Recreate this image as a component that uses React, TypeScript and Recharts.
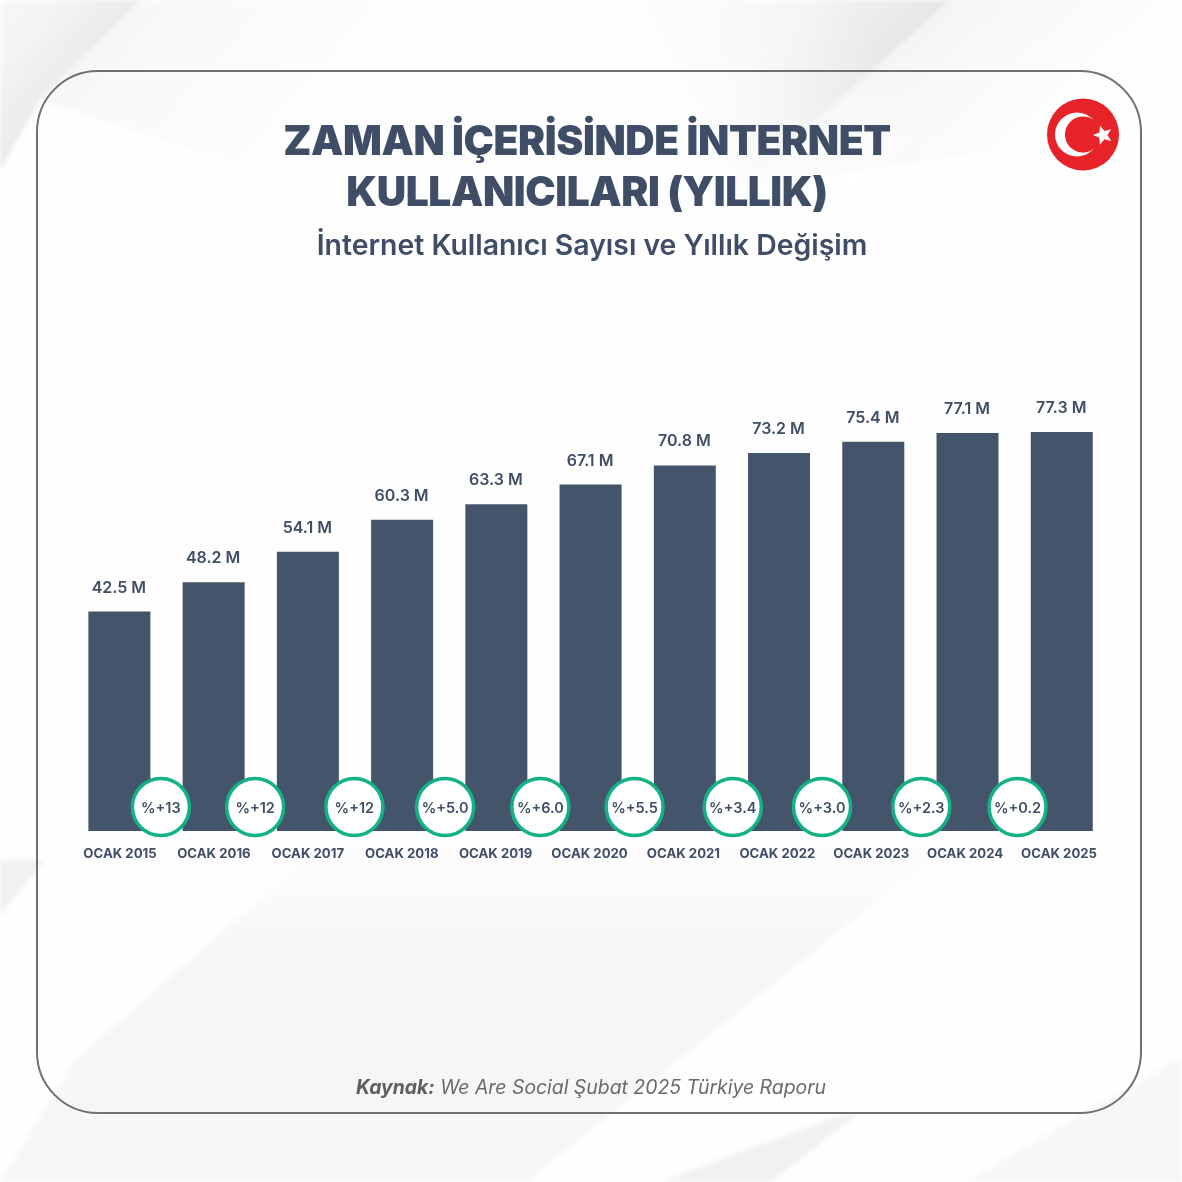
import React from 'react';
import { BarChart, Bar, XAxis, YAxis, LabelList } from 'recharts';

const years = ['OCAK 2015', 'OCAK 2016', 'OCAK 2017', 'OCAK 2018', 'OCAK 2019', 'OCAK 2020', 'OCAK 2021', 'OCAK 2022', 'OCAK 2023', 'OCAK 2024', 'OCAK 2025'];
const users = [42.5, 48.2, 54.1, 60.3, 63.3, 67.1, 70.8, 73.2, 75.4, 77.1, 77.3];
const changes = ['%+13', '%+12', '%+12', '%+5.0', '%+6.0', '%+5.5', '%+3.4', '%+3.0', '%+2.3', '%+0.2', null];

const rows = years.map((year, i) => ({ year, users: users[i] }));

const NAVY = '#44546a';
const TEXT = '#3f4e66';
const GREEN = '#12b286';
const FONT = 'Inter, "Open Sans", sans-serif';

// badges do not sit evenly between the bars in the original
const badgeShift = [41.5, 41.5, 46.5, 43, 44, 44, 48, 43, 48, 50];

function Badge(props: any) {
  const { x, width, index } = props;
  const text = changes[index];
  if (!text) return null;
  const cx = x + width / 2 + badgeShift[index];
  return (
    <g>
      <circle cx={cx} cy={807} r={28.5} fill="#fff" stroke={GREEN} strokeWidth={3.5} />
      <text x={cx} y={812.5} textAnchor="middle" fontSize={14.5} fontWeight={600} fill={TEXT} fontFamily={FONT}>
        {text}
      </text>
    </g>
  );
}

function ValueLabel(props: any) {
  const { x, y, width, value } = props;
  return (
    <text x={x + width / 2 - 0.5} y={y - 19} textAnchor="middle" fontSize={16} fontWeight={600} fill={TEXT} fontFamily={FONT}>
      {`${value} M`}
    </text>
  );
}

// the year labels run on a slightly tighter step than the bars
function YearTick(props: any) {
  const { x, y, payload, index } = props;
  return (
    <text x={x + 0.5 - index * 0.33} y={y + 11} textAnchor="middle" fontSize={13.2} fontWeight={700} fill={TEXT} fontFamily={FONT}>
      {payload.value}
    </text>
  );
}

function Background() {
  return (
    <svg width={1182} height={1182} style={{ position: 'absolute', left: 0, top: 0 }}>
      <defs>
        <linearGradient id="topLeft" gradientUnits="userSpaceOnUse" x1="90" y1="70" x2="-10" y2="-20">
          <stop offset="0" stopColor="#e9e9e9" />
          <stop offset="0.5" stopColor="#f4f4f4" />
          <stop offset="1" stopColor="#f8f8f8" />
        </linearGradient>
        <linearGradient id="topLeftFade" gradientUnits="userSpaceOnUse" x1="60" y1="90" x2="240" y2="250">
          <stop offset="0" stopColor="#f3f3f3" />
          <stop offset="1" stopColor="#fefefe" />
        </linearGradient>
        <linearGradient id="topStreak" gradientUnits="userSpaceOnUse" x1="850" y1="90" x2="660" y2="-120">
          <stop offset="0" stopColor="#e6e6e6" />
          <stop offset="0.3" stopColor="#f3f3f3" />
          <stop offset="1" stopColor="#fefefe" />
        </linearGradient>
        <linearGradient id="topStreakFade" gradientUnits="userSpaceOnUse" x1="850" y1="90" x2="960" y2="210">
          <stop offset="0" stopColor="#ececec" />
          <stop offset="1" stopColor="#fefefe" />
        </linearGradient>
        <linearGradient id="streakEnd" gradientUnits="userSpaceOnUse" x1="890" y1="50" x2="730" y2="195">
          <stop offset="0" stopColor="#fefefe" stopOpacity={0} />
          <stop offset="1" stopColor="#fefefe" stopOpacity={1} />
        </linearGradient>
        <linearGradient id="lowBand" gradientUnits="userSpaceOnUse" x1="0" y1="830" x2="0" y2="960">
          <stop offset="0" stopColor="#fefefe" />
          <stop offset="1" stopColor="#f6f6f6" />
        </linearGradient>
        <filter id="soft" x="-5%" y="-5%" width="110%" height="110%">
          <feGaussianBlur stdDeviation="2" />
        </filter>
      </defs>
      <rect width={1182} height={1182} fill="#fefefe" />
      <g filter="url(#soft)">
        <polygon points="950,0 1182,0 1182,120 740,190" fill="url(#topStreakFade)" opacity={0.5} />
        <polygon points="640,0 950,0 740,190" fill="url(#topStreak)" />
        <polygon points="520,0 950,0 1000,60 780,260 620,260" fill="url(#streakEnd)" />
        <polygon points="0,0 140,0 40,100 0,170" fill="url(#topLeft)" />
        <polygon points="140,0 400,0 260,170 40,100" fill="url(#topLeftFade)" opacity={0.7} />
        <polygon points="0,860 45,860 0,915" fill="#f1f1f1" />
        <polygon points="339,830 966,830 527,1182 0,1182 75,1060" fill="url(#lowBand)" />
        <polygon points="660,1182 836,1117 860,1113 770,1182" fill="#f1f1f1" />
        <polygon points="965,1182 1182,1057 1182,1182" fill="#f7f7f7" />
      </g>
    </svg>
  );
}

function Flag() {
  return (
    <svg width={80} height={80} style={{ position: 'absolute', left: 1043, top: 94 }}>
      <circle cx={40} cy={40.5} r={36} fill="#e52329" />
      <circle cx={34} cy={40.5} r={22} fill="#fff" />
      <circle cx={40} cy={40.5} r={18} fill="#e52329" />
      <polygon
        points="60,31 62.6,37.6 69.6,38 64.2,42.4 66,49.2 60,45.4 54,49.2 55.8,42.4 50.4,38 57.4,37.6"
        fill="#fff"
        transform="rotate(-18 60 41)"
      />
    </svg>
  );
}

const centered: React.CSSProperties = {
  position: 'absolute',
  left: 0,
  width: 1182,
  textAlign: 'center',
  fontFamily: FONT,
  color: TEXT,
  whiteSpace: 'nowrap',
};

export default function App() {
  return (
    <div style={{ position: 'absolute', left: 0, top: 0, width: 1182, height: 1182, overflow: 'hidden' }}>
      <Background />
      <div
        style={{
          position: 'absolute',
          left: 36,
          top: 70,
          width: 1102,
          height: 1040,
          border: '2px solid #707070',
          borderRadius: 62,
        }}
      />
      <Flag />
      <div style={{ ...centered, left: -4, top: 115, fontSize: 40.7, lineHeight: '51px', fontWeight: 900, letterSpacing: -0.4 }}>
        ZAMAN İÇERİSİNDE İNTERNET
        <br />
        KULLANICILARI (YILLIK)
      </div>
      <div style={{ ...centered, left: 1, top: 228, fontSize: 28.4, lineHeight: '34px', fontWeight: 600 }}>
        İnternet Kullanıcı Sayısı ve Yıllık Değişim
      </div>

      <div style={{ position: 'absolute', left: 0, top: 0 }}>
        <BarChart
          width={1182}
          height={900}
          data={rows}
          margin={{ top: 418, right: 73, bottom: 0, left: 72.4 }}
        >
          <XAxis
            dataKey="year"
            axisLine={false}
            tickLine={false}
            interval={0}
            tickMargin={10}
            tick={<YearTick />}
            height={69}
          />
          <YAxis hide domain={[0, 80]} />
          <Bar dataKey="users" fill={NAVY} barSize={62} isAnimationActive={false}>
            <LabelList dataKey="users" content={<ValueLabel />} />
            <LabelList dataKey="users" content={<Badge />} />
          </Bar>
        </BarChart>
      </div>

      <div style={{ ...centered, top: 1075, fontSize: 19.4, lineHeight: '24px', fontStyle: 'italic', color: '#6a6a6a' }}>
        <b style={{ fontWeight: 700, color: '#5f5f5f' }}>Kaynak:</b> We Are Social Şubat 2025 Türkiye Raporu
      </div>
    </div>
  );
}
